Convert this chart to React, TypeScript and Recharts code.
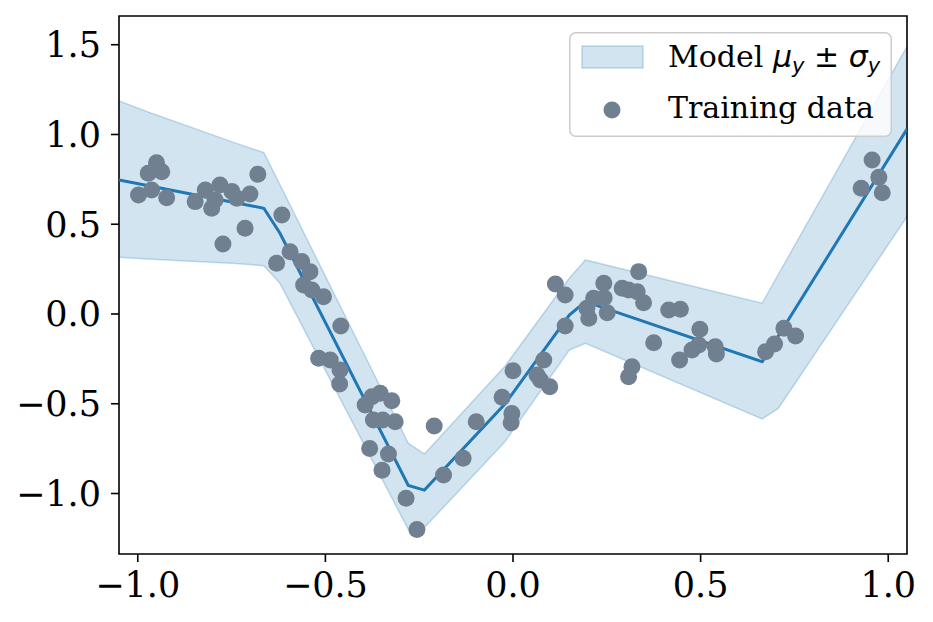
import { ComposedChart, Area, Line, Scatter, XAxis, YAxis, Legend, ReferenceArea } from "recharts";

// model prediction, read at the knots of the piecewise-linear curve
const modelX = [-1.05, -0.964, -0.75, -0.664, -0.621, -0.279, -0.236, -0.021, 0.15, 0.193, 0.664, 0.707, 1.05];
const modelMean = [0.747, 0.712, 0.624, 0.589, 0.45, -0.955, -0.981, -0.5, -0.006, 0.069, -0.266, -0.123, 1.03];
const modelUpper = [1.187, 1.119, 0.96, 0.899, 0.72, -0.72, -0.78, -0.29, 0.199, 0.301, 0.06, 0.22, 1.49];
const modelLower = [0.316, 0.305, 0.283, 0.269, 0.171, -1.2, -1.19, -0.71, -0.201, -0.163, -0.585, -0.526, 0.542];

// training samples
const trainX = [
  -0.998, -0.972, -0.95, -0.936, -0.963, -0.923, -0.847, -0.82, -0.803, -0.781, -0.794, -0.749, -0.736, -0.701,
  -0.68, -0.714, -0.773, -0.616, -0.63, -0.594, -0.563, -0.541, -0.558, -0.536, -0.505, -0.459, -0.518, -0.487,
  -0.461, -0.462, -0.394, -0.376, -0.354, -0.323, -0.372, -0.347, -0.314, -0.382, -0.332, -0.349, -0.285, -0.256,
  -0.21, -0.185, -0.133, -0.098, -0.029, -0.003, -0.005, 0.0, 0.064, 0.082, 0.098, 0.073, 0.113, 0.139, 0.139,
  0.202, 0.197, 0.215, 0.242, 0.243, 0.251, 0.291, 0.308, 0.331, 0.335, 0.348, 0.317, 0.308, 0.415, 0.446, 0.498,
  0.375, 0.444, 0.477, 0.495, 0.539, 0.542, 0.673, 0.697, 0.722, 0.753, 0.957, 0.975, 0.928, 0.984,
];
const trainY = [
  0.663, 0.784, 0.843, 0.793, 0.691, 0.648, 0.626, 0.691, 0.589, 0.719, 0.635, 0.682, 0.645, 0.669,
  0.779, 0.478, 0.39, 0.552, 0.283, 0.347, 0.292, 0.236, 0.162, 0.134, 0.096, -0.067, -0.247, -0.256,
  -0.312, -0.39, -0.507, -0.461, -0.442, -0.483, -0.591, -0.591, -0.6, -0.749, -0.78, -0.87, -1.027, -1.2,
  -0.624, -0.897, -0.804, -0.6, -0.464, -0.554, -0.606, -0.316, -0.34, -0.256, -0.405, -0.368, 0.167, 0.106, -0.067,
  -0.024, 0.032, 0.088, 0.171, 0.09, 0.007, 0.143, 0.134, 0.124, 0.236, 0.063, -0.294, -0.349, 0.022, 0.026, -0.085,
  -0.16, -0.256, -0.201, -0.173, -0.182, -0.223, -0.21, -0.167, -0.08, -0.123, 0.858, 0.762, 0.701, 0.676,
];

const xTicks = [-1, -0.5, 0, 0.5, 1];
const yTicks = [-1, -0.5, 0, 0.5, 1, 1.5];

const X_MIN = -1.05;
const X_MAX = 1.05;
const Y_MIN = -1.337;
const Y_MAX = 1.66;

const BLUE = "#1f77b4";
const GREY = "#708090";
const SERIF = "'DejaVu Serif', serif";

const modelRows = modelX.map((x, i) => ({ x, mean: modelMean[i], band: [modelLower[i], modelUpper[i]] }));
const trainRows = trainX.map((x, i) => ({ x, y: trainY[i] }));

const fmt = (v: number) => v.toFixed(1).replace("-", "\u2212");

const Dot = (props: any) => <circle cx={props.cx} cy={props.cy} r={8.5} fill={GREY} />;

const LegendBox = () => (
  <svg width={323} height={105} style={{ display: "block" }}>
    <rect x={0.75} y={0.75} width={321.5} height={103.5} rx={6} fill="#fff" fillOpacity={0.8} stroke="#cccccc" strokeWidth={1.5} />
    <rect x={13} y={14} width={61} height={22} fill={BLUE} fillOpacity={0.2} stroke={BLUE} strokeOpacity={0.25} strokeWidth={1.5} />
    <circle cx={43} cy={78} r={8.5} fill={GREY} />
    <text x={99} y={35} fontFamily={SERIF} fontSize={30} fill="#000">
      Model{" "}
      <tspan fontFamily="'DejaVu Sans', sans-serif" fontStyle="italic">{"\u03bc"}</tspan>
      <tspan fontFamily="'DejaVu Sans', sans-serif" fontStyle="italic" fontSize={21} dy={6}>y</tspan>
      <tspan fontFamily="'DejaVu Sans', sans-serif" dy={-6}>{" \u00b1 "}</tspan>
      <tspan fontFamily="'DejaVu Sans', sans-serif" fontStyle="italic">{"\u03c3"}</tspan>
      <tspan fontFamily="'DejaVu Sans', sans-serif" fontStyle="italic" fontSize={21} dy={6}>y</tspan>
    </text>
    <text x={99} y={86} fontFamily={SERIF} fontSize={30} fill="#000">Training data</text>
  </svg>
);

export default function App() {
  return (
    <div style={{ position: "absolute", left: 0, top: 0 }}>
      <ComposedChart width={933} height={622} data={modelRows} margin={{ top: 16, right: 26, bottom: 0, left: 0 }}>
        <XAxis
          dataKey="x"
          type="number"
          domain={[X_MIN, X_MAX]}
          ticks={xTicks}
          interval={0}
          allowDataOverflow
          height={68}
          tickSize={8}
          tickMargin={10}
          axisLine={false}
          tickLine={{ stroke: "#000", strokeWidth: 1.6 }}
          tick={{ fill: "#000", fontSize: 35, fontFamily: SERIF }}
          tickFormatter={fmt}
        />
        <YAxis
          type="number"
          domain={[Y_MIN, Y_MAX]}
          ticks={yTicks}
          interval={0}
          allowDataOverflow
          width={119}
          tickSize={8}
          tickMargin={10}
          axisLine={false}
          tickLine={{ stroke: "#000", strokeWidth: 1.6 }}
          tick={{ fill: "#000", fontSize: 35, fontFamily: SERIF }}
          tickFormatter={fmt}
        />
        <Area
          dataKey="band"
          type="linear"
          fill={BLUE}
          fillOpacity={0.2}
          stroke={BLUE}
          strokeOpacity={0.25}
          strokeWidth={1.5}
          dot={false}
          activeDot={false}
          isAnimationActive={false}
        />
        <Scatter data={trainRows} dataKey="y" shape={Dot} isAnimationActive={false} />
        <Line dataKey="mean" type="linear" stroke={BLUE} strokeWidth={3} dot={false} activeDot={false} isAnimationActive={false} />
        <ReferenceArea x1={X_MIN} x2={X_MAX} y1={Y_MIN} y2={Y_MAX} fill="none" stroke="#000" strokeWidth={1.6} />
        <Legend
          layout="horizontal"
          verticalAlign="middle"
          align="center"
          content={() => <LegendBox />}
          wrapperStyle={{ left: 569, top: 32, width: 323, height: 105 }}
        />
      </ComposedChart>
    </div>
  );
}
